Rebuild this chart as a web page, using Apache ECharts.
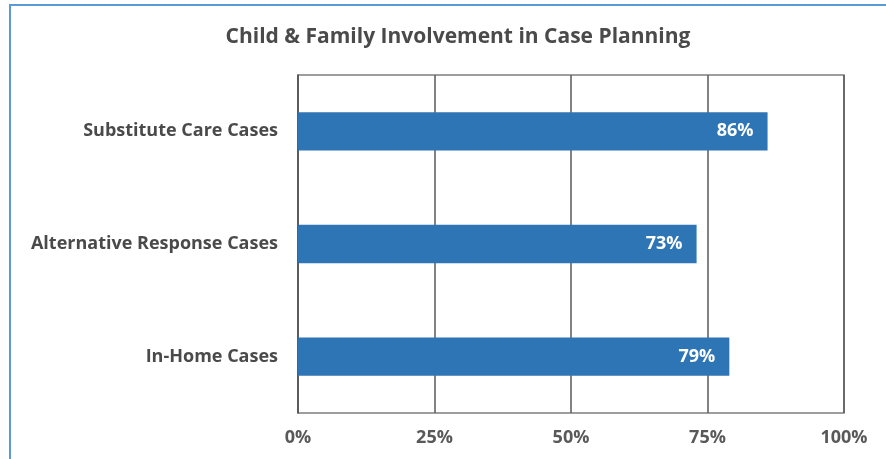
<!DOCTYPE html>
<html>
<head>
<meta charset="utf-8">
<script src="https://cdn.jsdelivr.net/npm/echarts@6/dist/echarts.min.js"></script>
<style>
  html, body { margin: 0; padding: 0; background: #ffffff; }
  #chart { width: 886px; height: 459px; }
</style>
</head>
<body>
<div id="chart"></div>
<script>
// Case types, listed top to bottom
const categories = ['Substitute Care Cases', 'Alternative Response Cases', 'In-Home Cases'];
// Share of cases with child & family involvement (%)
const involvement = [86, 73, 79];
// Value axis ticks (%)
const xTicks = [0, 25, 50, 75, 100];

const chart = echarts.init(document.getElementById('chart'));
const font = '"Open Sans", "DejaVu Sans", sans-serif';

chart.setOption({
  animation: false,
  backgroundColor: '#ffffff',
  title: {
    text: 'Child & Family Involvement in Case Planning',
    left: 453, top: 22, textAlign: 'center',
    textStyle: { fontFamily: font, fontWeight: 'bold', fontSize: 21, color: '#4a4a4a' }
  },
  graphic: [{
    type: 'rect', silent: true,
    shape: { x: 10, y: 5, width: 1000, height: 1000 },
    style: { fill: 'none', stroke: '#5b9bd5', lineWidth: 2 }
  }],
  grid: {
    left: 298, top: 75, width: 546, height: 338,
    show: true, borderColor: '#7f7f7f', borderWidth: 1.5, backgroundColor: 'transparent'
  },
  xAxis: {
    type: 'value', min: xTicks[0], max: xTicks[xTicks.length - 1], interval: 25,
    axisLine: { show: false }, axisTick: { show: false },
    splitLine: { show: true, lineStyle: { color: '#595959', width: 1.5 } },
    axisLabel: {
      margin: 16, fontFamily: font, fontWeight: 'bold', fontSize: 18, color: '#595959',
      formatter: v => v + '%'
    }
  },
  yAxis: {
    type: 'category', data: categories, inverse: true,
    axisLine: { show: true, lineStyle: { color: '#595959', width: 1.5 } },
    axisTick: { show: false },
    axisLabel: { margin: 20, fontFamily: font, fontWeight: 'bold', fontSize: 18, color: '#4a4a4a' }
  },
  series: [{
    type: 'bar', data: involvement, barCategoryGap: '66%',
    itemStyle: { color: '#2e75b6' },
    label: {
      show: true, position: 'insideRight', distance: 14,
      formatter: p => p.value + '%',
      fontFamily: font, fontWeight: 'bold', fontSize: 18, color: '#ffffff'
    }
  }]
});
</script>
</body>
</html>
